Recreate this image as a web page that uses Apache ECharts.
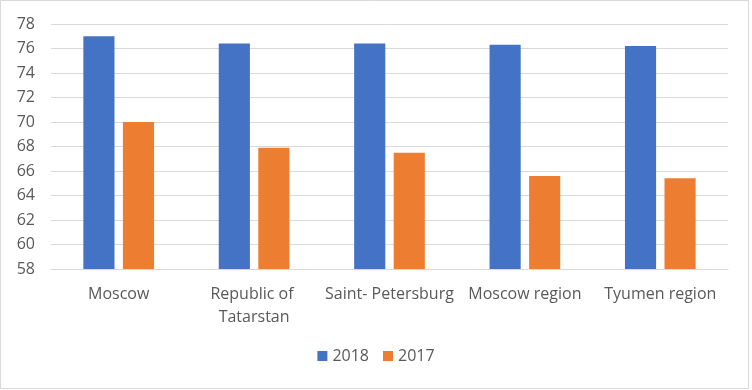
<!DOCTYPE html>
<html>
<head>
<meta charset="utf-8">
<script src="https://cdn.jsdelivr.net/npm/echarts@6/dist/echarts.min.js"></script>
<style>
html,body{margin:0;padding:0;background:#fff;}
#c{width:752px;height:390px;}
</style>
</head>
<body>
<div id="c"></div>
<script>
const categories = ['Moscow', 'Republic of Tatarstan', 'Saint- Petersburg', 'Moscow region', 'Tyumen region'];
const values2018 = [77.0, 76.4, 76.4, 76.3, 76.2];
const values2017 = [70.0, 67.9, 67.5, 65.6, 65.4];
const yTicks = { min: 58, max: 78, interval: 2 };

const FONT = '"Open Sans", "Liberation Sans", sans-serif';
const chart = echarts.init(document.getElementById('c'));
chart.setOption({
  animation: false,
  textStyle: { fontFamily: FONT },
  graphic: [{
    type: 'rect', shape: { x: 0.5, y: 0.5, width: 748, height: 388 },
    style: { fill: 'none', stroke: '#d9d9d9', lineWidth: 1 }, silent: true
  }],
  grid: { left: 51, right: 24, top: 24, bottom: 121, containLabel: false },
  legend: {
    bottom: 21, left: 'center',
    itemWidth: 10, itemHeight: 10, itemGap: 14,
    icon: 'rect',
    textStyle: { fontFamily: FONT, fontSize: 16, color: '#595959', padding: [0, 0, 0, 0] },
    data: ['2018', '2017']
  },
  xAxis: {
    type: 'category', data: categories,
    axisLine: { lineStyle: { color: '#d9d9d9', width: 1 } },
    axisTick: { show: false },
    axisLabel: {
      interval: 0, color: '#595959', fontSize: 16, fontFamily: FONT,
      margin: 14, width: 134, overflow: 'break', lineHeight: 23
    }
  },
  yAxis: {
    type: 'value', min: yTicks.min, max: yTicks.max, interval: yTicks.interval,
    axisLine: { show: false }, axisTick: { show: false },
    splitLine: { lineStyle: { color: '#d9d9d9', width: 1 } },
    axisLabel: { color: '#595959', fontSize: 16, fontFamily: FONT, margin: 16 }
  },
  series: [
    { name: '2018', type: 'bar', data: values2018, barWidth: '23%', barGap: '27%',
      itemStyle: { color: '#4472C4' } },
    { name: '2017', type: 'bar', data: values2017, barWidth: '23%',
      itemStyle: { color: '#ED7D31' } }
  ]
});
</script>
</body>
</html>
